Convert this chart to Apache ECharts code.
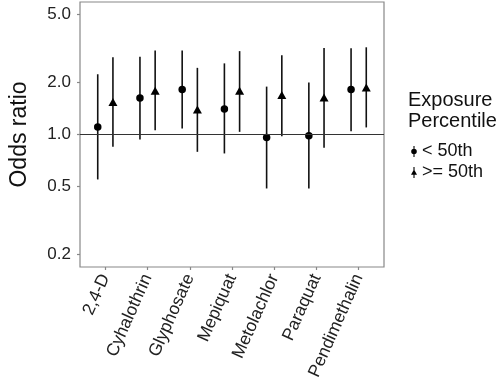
<!DOCTYPE html>
<html>
<head>
<meta charset="utf-8">
<script src="https://cdn.jsdelivr.net/npm/echarts@6/dist/echarts.min.js"></script>
<style>
html,body{margin:0;padding:0;background:#fff;}
#chart{width:500px;height:390px;}
</style>
</head>
<body>
<div id="chart"></div>
<script>
// ---- data ----
var categories = ['2,4-D','Cyhalothrin','Glyphosate','Mepiquat','Metolachlor','Paraquat','Pendimethalin'];
var seriesNames = ['< 50th', '>= 50th'];
var lowOR = [1.10, 1.62, 1.82, 1.40, 0.956, 0.977, 1.82];
var lowLo = [0.545, 0.931, 1.079, 0.772, 0.483, 0.483, 1.041];
var lowHi = [2.23, 2.82, 3.07, 2.58, 1.89, 2.00, 3.16];
var highOR = [1.54, 1.79, 1.39, 1.79, 1.69, 1.635, 1.87];
var highLo = [0.844, 1.055, 0.789, 1.031, 0.973, 0.832, 1.094];
var highHi = [2.80, 3.07, 2.43, 3.04, 2.88, 3.17, 3.20];
var yTicks = [0.2, 0.5, 1.0, 2.0, 5.0];
var refValue = 1.0;

var dodge = 0.18;
var FONT = '"Liberation Sans", Arial, Helvetica, sans-serif';
var catPos = categories.map(function(c, i){ return i + 1; });

function pts(vals, off){ return vals.map(function(v, i){ return [catPos[i] + off, v]; }); }
function bars(lo, hi, off){ return lo.map(function(v, i){ return [catPos[i] + off, v, hi[i]]; }); }

function errRender(params, api){
  var a = api.coord([api.value(0), api.value(1)]);
  var b = api.coord([api.value(0), api.value(2)]);
  return {type:'line', shape:{x1:a[0], y1:a[1], x2:b[0], y2:b[1]}, style:{stroke:'#111', lineWidth:1.6}};
}

var iconCircle = 'path://M-0.55,-5.5 L0.55,-5.5 L0.55,5.5 L-0.55,5.5 Z M0,-2.8 A2.8,2.8 0 1,1 0,2.8 A2.8,2.8 0 1,1 0,-2.8 Z';
var iconTri = 'path://M-0.55,-5.5 L0.55,-5.5 L0.55,5.5 L-0.55,5.5 Z M0,-3.2 L3,2.2 L-3,2.2 Z';

var chart = echarts.init(document.getElementById('chart'), null, {renderer:'canvas'});
chart.setOption({
  animation:false,
  backgroundColor:'#fff',
  title:{
    text:'Exposure\nPercentile', left:408, top:90, padding:0,
    textStyle:{fontFamily:FONT, fontSize:20, fontWeight:'normal', color:'#111', lineHeight:21}
  },
  legend:{
    orient:'vertical', left:411, top:142, padding:0, itemGap:2,
    itemWidth:6, itemHeight:11,
    textStyle:{fontFamily:FONT, fontSize:18, color:'#111', lineHeight:19},
    data:[{name:seriesNames[0], icon:iconCircle}, {name:seriesNames[1], icon:iconTri}]
  },
  grid:{left:70, top:2, right:116, bottom:123, show:true, borderColor:'#888', borderWidth:1.2, containLabel:false},
  xAxis:{
    type:'value', min:0.4, max:7.6,
    axisLine:{show:false},
    splitLine:{show:false},
    axisTick:{show:true, length:3, lineStyle:{color:'#888', width:1.2}, customValues:catPos},
    axisLabel:{
      customValues:catPos, rotate:66, margin:8,
      fontFamily:FONT, fontSize:17.5, color:'#222',
      formatter:function(v){ return categories[Math.round(v) - 1] || ''; }
    }
  },
  yAxis:{
    type:'log', logBase:10, min:0.1687, max:5.87,
    name:'Odds ratio', nameLocation:'middle', nameRotate:90, nameGap:49,
    nameTextStyle:{fontFamily:FONT, fontSize:23, color:'#111'},
    axisLine:{show:false},
    splitLine:{show:false},
    axisTick:{show:true, length:3, lineStyle:{color:'#888', width:1.2}, customValues:yTicks},
    axisLabel:{
      customValues:yTicks, margin:9,
      fontFamily:FONT, fontSize:17, color:'#222',
      formatter:function(v){ return Number(v).toFixed(1); }
    }
  },
  series:[
    {
      type:'custom', name:'err_low', renderItem:errRender, data:bars(lowLo, lowHi, -dodge), z:2,
      encode:{x:0, y:[1,2]},
      markLine:{silent:true, symbol:'none', label:{show:false},
        lineStyle:{color:'#333', width:1.2, type:'solid'}, data:[{yAxis:refValue}]}
    },
    {type:'custom', name:'err_high', renderItem:errRender, data:bars(highLo, highHi, dodge), z:2, encode:{x:0, y:[1,2]}},
    {type:'scatter', name:seriesNames[0], symbol:'circle', symbolSize:7.5, data:pts(lowOR, -dodge), itemStyle:{color:'#000', opacity:1}, z:3},
    {type:'scatter', name:seriesNames[1], symbol:'triangle', symbolSize:[9,8], data:pts(highOR, dodge), itemStyle:{color:'#000', opacity:1}, z:3}
  ]
});
</script>
</body>
</html>
